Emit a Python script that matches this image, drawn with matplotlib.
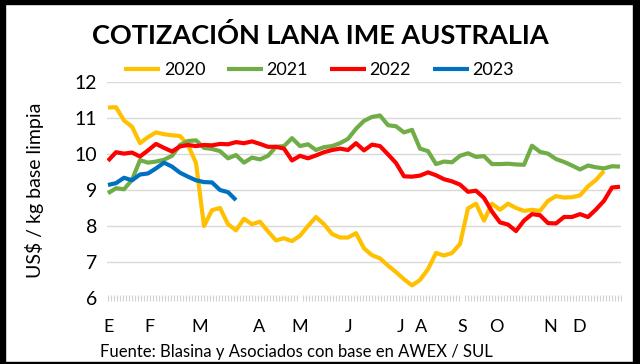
import matplotlib
matplotlib.use("Agg")
import matplotlib.pyplot as plt
from matplotlib.ticker import MultipleLocator, FixedLocator, NullFormatter
from matplotlib.patches import Rectangle

# ---- data (US$ / kg base limpia), sampled along the season ----
y2020 = [11.29, 11.30, 10.93, 10.76, 10.30, 10.47, 10.60, 10.55, 10.52, 10.50,
         10.25, 9.75, 8.00, 8.44, 8.50, 8.05, 7.88, 8.20, 8.05, 8.12,
         7.85, 7.60, 7.66, 7.58, 7.73, 8.00, 8.25, 8.05, 7.78, 7.68,
         7.68, 7.80, 7.38, 7.19, 7.10, 6.90, 6.72, 6.52, 6.35, 6.50,
         6.80, 7.25, 7.18, 7.25, 7.50, 8.49, 8.62, 8.15, 8.62, 8.45,
         8.62, 8.50, 8.42, 8.45, 8.42, 8.70, 8.83, 8.79, 8.80, 8.85,
         9.10, 9.28, 9.53]
y2021 = [8.91, 9.05, 9.02, 9.28, 9.83, 9.76, 9.79, 9.84, 9.95, 10.25,
         10.36, 10.38, 10.17, 10.14, 10.08, 9.88, 9.97, 9.76, 9.90, 9.85,
         9.95, 10.20, 10.22, 10.44, 10.22, 10.27, 10.11, 10.19, 10.22, 10.30,
         10.42, 10.70, 10.92, 11.03, 11.07, 10.80, 10.77, 10.60, 10.67, 10.15,
         10.08, 9.72, 9.79, 9.77, 9.95, 10.02, 9.92, 9.94, 9.72, 9.72,
         9.73, 9.71, 9.70, 10.23, 10.06, 10.01, 9.86, 9.78, 9.68, 9.57,
         9.68, 9.63, 9.60, 9.66, 9.65]
y2022 = [9.81, 10.05, 10.01, 10.04, 9.93, 10.10, 10.28, 10.17, 10.07, 10.21,
         10.25, 10.22, 10.25, 10.24, 10.28, 10.27, 10.33, 10.30, 10.35, 10.28,
         10.20, 10.20, 10.15, 9.82, 9.95, 9.88, 9.96, 10.05, 10.11, 10.15,
         10.11, 10.30, 10.10, 10.26, 10.22, 9.99, 9.75, 9.38, 9.37, 9.40,
         9.49, 9.41, 9.30, 9.24, 9.15, 8.95, 8.98, 8.78, 8.40, 8.10,
         8.04, 7.86, 8.15, 8.33, 8.30, 8.08, 8.07, 8.25, 8.25, 8.33,
         8.25, 8.46, 8.70, 9.07, 9.09]
y2023 = [9.14, 9.19, 9.34, 9.27, 9.43, 9.46, 9.60, 9.76, 9.65, 9.48,
         9.37, 9.27, 9.22, 9.21, 9.00, 8.94, 8.72]

series_names = ["2020", "2021", "2022", "2023"]
series_vals = [y2020, y2021, y2022, y2023]
series_colors = ["#FFC000", "#70AD47", "#FF0000", "#0070C0"]

month_labels = ["E", "F", "M", "A", "M", "J", "J", "A", "S", "O", "N", "D"]
month_pos = [0.125, 5.125, 11.5, 18.875, 24.0, 30.125, 36.6, 39.1, 44.25, 48.5, 55.25, 58.9]

yticks = [6, 7, 8, 9, 10, 11, 12]

plt.rcParams['font.family'] = ['Lato', 'DejaVu Sans']

W, H = 640, 364
fig = plt.figure(figsize=(W / 100, H / 100), dpi=100)
fig.patch.set_facecolor("white")

ax_l, ax_r, ax_t, ax_b = 107, 621, 82, 298
ax = fig.add_axes([ax_l / W, 1 - ax_b / H, (ax_r - ax_l) / W, (ax_b - ax_t) / H])

for name, vals, col in zip(series_names, series_vals, series_colors):
    ax.plot(range(len(vals)), vals, color=col, lw=3.0, label=name,
            solid_joinstyle="round", solid_capstyle="butt")

ax.set_xlim(-0.125, 64.125)
ax.set_ylim(6, 12)
ax.set_yticks(yticks)
ax.yaxis.grid(True, color="#d9d9d9", lw=1.0)
ax.set_axisbelow(True)
for s in ["top", "right", "left", "bottom"]:
    ax.spines[s].set_visible(False)

ax.xaxis.set_major_locator(FixedLocator(month_pos))
ax.set_xticklabels(month_labels)
ax.xaxis.set_minor_locator(MultipleLocator(0.375))
ax.xaxis.set_minor_formatter(NullFormatter())
ax.tick_params(axis="x", which="major", length=0, pad=15, labelsize=13, colors="black")
ax.tick_params(axis="x", which="minor", length=5, width=0.8, color="#d2d2d2", direction="inout")
ax.tick_params(axis="y", length=0, pad=7, labelsize=14, colors="black")

fig.text(35 / W, 1 - 190 / H, "US$ / kg base limpia", rotation=90, ha="center", va="center",
         fontsize=14, color="black")

fig.text(320 / W, 1 - 36 / H, "COTIZACIÓN LANA IME AUSTRALIA", ha="center", va="center",
         fontsize=19.5, fontweight="bold", color="black")

fig.legend(loc="center", bbox_to_anchor=(319 / W, 1 - 70 / H), ncol=4, frameon=False,
           fontsize=13, handlelength=2.0, handletextpad=0.2, columnspacing=1.2,
           borderaxespad=0)

fig.text(100 / W, 1 - 352 / H, "Fuente: Blasina y Asociados con base en AWEX / SUL",
         ha="left", va="center", fontsize=12, color="black")

# black frame around the picture
for (x0, y0, w, h) in [(0, 0, 5, H), (W - 7, 0, 7, H), (0, H - 4, W, 4), (0, 0, W, 2)]:
    fig.patches.append(Rectangle((x0 / W, y0 / H), w / W, h / H, transform=fig.transFigure,
                                 color="black", zorder=10))

fig.savefig("out.png", dpi=100, facecolor="white")
